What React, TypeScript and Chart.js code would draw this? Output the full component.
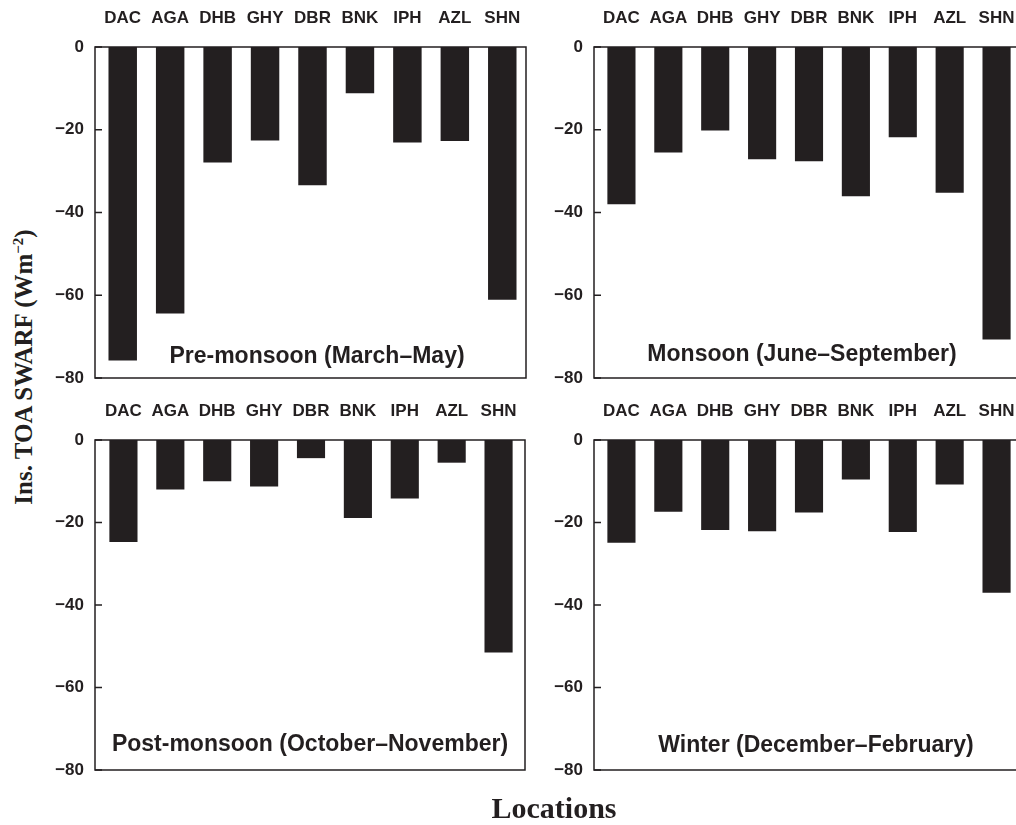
import React, { useEffect, useRef } from "react";
import { Chart, registerables } from "chart.js";

Chart.register(...registerables);

// ---- data ----
const locations = ["DAC", "AGA", "DHB", "GHY", "DBR", "BNK", "IPH", "AZL", "SHN"];
const preMonsoon = [-75.8, -64.4, -27.9, -22.6, -33.4, -11.2, -23.1, -22.7, -61.1];
const monsoon = [-38.0, -25.5, -20.2, -27.1, -27.6, -36.1, -21.8, -35.2, -70.7];
const postMonsoon = [-24.7, -12.0, -10.0, -11.3, -4.4, -18.9, -14.2, -5.5, -51.5];
const winter = [-24.9, -17.4, -21.8, -22.1, -17.6, -9.6, -22.3, -10.8, -37.0];
const yTicks = [0, -20, -40, -60, -80];
const panelTitles = [
  "Pre-monsoon (March\u2013May)",
  "Monsoon (June\u2013September)",
  "Post-monsoon (October\u2013November)",
  "Winter (December\u2013February)",
];
const yTitle = "Ins. TOA SWARF (Wm";
const yTitleSup = "\u22122";
const xTitle = "Locations";

// ---- styling / layout ----
const INK = "#231f20";
const SANS = '"Liberation Sans", Arial, sans-serif';
const SERIF = '"Liberation Serif", "Times New Roman", serif';
const Y_W = 60;
const X_H = 45;

type Geom = {
  areaLeft: number; areaRight: number; frameLeft: number; frameRight: number;
  top: number; bottom: number; titleX: number; titleY: number;
};

const geoms: Geom[] = [
  { areaLeft: 99, areaRight: 526, frameLeft: 95, frameRight: 526, top: 47, bottom: 378, titleX: 317, titleY: 355 },
  { areaLeft: 598, areaRight: 1020, frameLeft: 594, frameRight: 1022, top: 47, bottom: 378, titleX: 802, titleY: 353 },
  { areaLeft: 100, areaRight: 522, frameLeft: 95, frameRight: 525, top: 440, bottom: 770, titleX: 310, titleY: 743 },
  { areaLeft: 598, areaRight: 1020, frameLeft: 594, frameRight: 1022, top: 440, bottom: 770, titleX: 816, titleY: 744 },
];

const seriesList = [preMonsoon, monsoon, postMonsoon, winter];

function makeFramePlugin(g: Geom) {
  return {
    id: "frame",
    afterDatasetsDraw(chart: any) {
      const { ctx, chartArea: a, scales } = chart;
      const l = a.left - (g.areaLeft - g.frameLeft);
      const r = a.right + (g.frameRight - g.areaRight);
      ctx.save();
      ctx.strokeStyle = INK;
      ctx.lineWidth = 1.5;
      ctx.beginPath();
      ctx.moveTo(l, a.top);
      ctx.lineTo(r, a.top);
      ctx.lineTo(r, a.bottom);
      ctx.lineTo(l, a.bottom);
      ctx.closePath();
      ctx.stroke();
      ctx.beginPath();
      const ys = scales.y;
      yTicks.forEach((v) => {
        const py = ys.getPixelForValue(v);
        ctx.moveTo(l, py);
        ctx.lineTo(l + 7, py);
      });
      ctx.stroke();
      ctx.restore();
    },
  };
}

function Panel({ values, geom }: { values: number[]; geom: Geom }) {
  const ref = useRef<HTMLCanvasElement>(null);
  const areaW = geom.areaRight - geom.areaLeft;
  const areaH = geom.bottom - geom.top;
  const padR = Math.max(geom.frameRight - geom.areaRight, 0) + 22;
  const padB = 32;
  const cw = Y_W + areaW + padR;
  const ch = X_H + areaH + padB;

  useEffect(() => {
    if (!ref.current) return;
    const chart = new Chart(ref.current, {
      type: "bar",
      data: {
        labels: locations,
        datasets: [
          {
            data: values,
            backgroundColor: INK,
            borderWidth: 0,
            categoryPercentage: 1,
            barPercentage: 0.6,
          },
        ],
      },
      options: {
        animation: false,
        responsive: false,
        maintainAspectRatio: false,
        layout: { padding: { top: 0, left: 0, right: padR, bottom: padB } },
        plugins: {
          legend: { display: false },
          tooltip: { enabled: false },
          title: { display: false },
        },
        scales: {
          x: {
            position: "top",
            grid: { display: false, drawTicks: false },
            border: { display: false },
            ticks: {
              autoSkip: false,
              maxRotation: 0,
              minRotation: 0,
              padding: 18,
              color: INK,
              font: { family: SANS, size: 17, weight: "bold" },
            },
            afterFit: (s: any) => {
              s.height = X_H;
            },
          },
          y: {
            min: -80,
            max: 0,
            grid: { display: false, drawTicks: false },
            border: { display: false },
            afterBuildTicks: (s: any) => {
              s.ticks = yTicks.map((v) => ({ value: v }));
            },
            ticks: {
              padding: geom.areaLeft - geom.frameLeft + 11,
              color: INK,
              font: { family: SANS, size: 17, weight: "bold" },
              callback: (v: any) => (Number(v) === 0 ? "0" : "\u2212" + Math.abs(Number(v))),
            },
            afterFit: (s: any) => {
              s.width = Y_W;
            },
          },
        },
      },
      plugins: [makeFramePlugin(geom)],
    } as any);
    return () => chart.destroy();
  }, []);

  return (
    <canvas
      ref={ref}
      width={cw}
      height={ch}
      style={{
        position: "absolute",
        left: geom.areaLeft - Y_W,
        top: geom.top - X_H,
        width: cw,
        height: ch,
      }}
    />
  );
}

export default function App() {
  return (
    <div
      style={{
        position: "fixed",
        left: 0,
        top: 0,
        width: 1016,
        height: 825,
        overflow: "hidden",
        background: "#fff",
      }}
    >
      {geoms.map((g, i) => (
        <Panel key={i} values={seriesList[i]} geom={g} />
      ))}
      {geoms.map((g, i) => (
        <div
          key={"t" + i}
          style={{
            position: "absolute",
            left: g.titleX,
            top: g.titleY,
            transform: "translate(-50%, -50%)",
            whiteSpace: "pre",
            font: `bold 23px ${SANS}`,
            lineHeight: "23px",
            color: INK,
          }}
        >
          {panelTitles[i]}
        </div>
      ))}
      <div
        style={{
          position: "absolute",
          left: 23,
          top: 367,
          transform: "translate(-50%, -50%) rotate(-90deg)",
          whiteSpace: "nowrap",
          font: `bold 25px ${SERIF}`,
          lineHeight: "25px",
          color: INK,
        }}
      >
        {yTitle}
        <span style={{ fontSize: "0.6em", verticalAlign: "0.55em", lineHeight: 0 }}>{yTitleSup}</span>)
      </div>
      <div
        style={{
          position: "absolute",
          left: 554,
          top: 808,
          transform: "translate(-50%, -50%)",
          whiteSpace: "nowrap",
          font: `bold 30px ${SERIF}`,
          lineHeight: "30px",
          color: INK,
        }}
      >
        {xTitle}
      </div>
    </div>
  );
}
